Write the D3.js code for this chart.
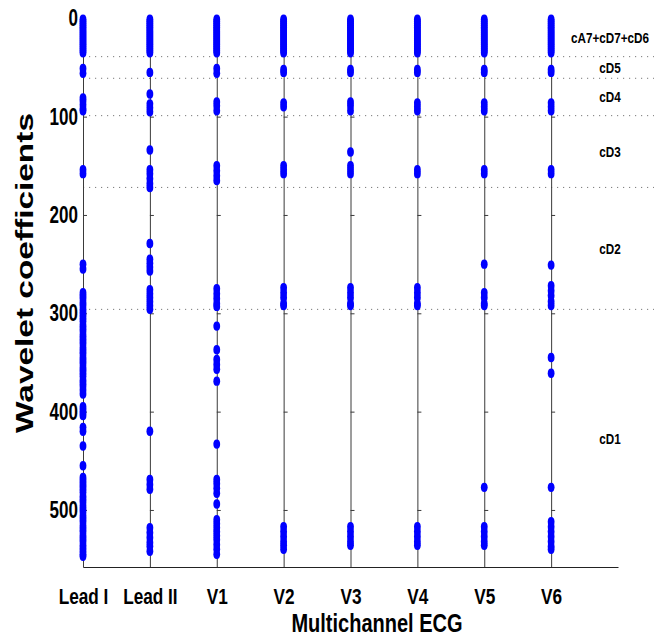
<!doctype html>
<html lang="en">
<head>
  <meta charset="utf-8">
  <title>wavelet coefficients per lead</title>
  <style>
    * { margin: 0; padding: 0; box-sizing: border-box; }
    body { background: #fff; }
  </style>
</head>
<body>
  <div class="chart"></div>
  <script src="https://cdn.jsdelivr.net/npm/d3@7"></script>
  <script>
    // ---------------------------------------------------------------
    //@@ data
    const leads = ['Lead I', 'Lead II', 'V1', 'V2', 'V3', 'V4', 'V5', 'V6'];
    const yTicks = [0, 100, 200, 300, 400, 500];
    const bandEdges = [39, 61, 99, 172, 296];
    const bandNames = ['cA7+cD7+cD6', 'cD5', 'cD4', 'cD3', 'cD2', 'cD1'];

    // approximation band, kept by every lead
    const approxBand = [1, 3, 5, 7, 9, 11, 13, 15, 17, 19, 21, 23, 25, 27, 29, 31, 33, 35];

    const leadI = [51, 56, 81, 84, 88, 92, 94, 154, 158, 250, 255,
      279, 282, 285, 289, 292, 296, 299, 302, 305, 308, 312, 315, 318, 322, 325, 328, 331, 335,
      338, 341, 345, 348, 351, 355, 358, 361, 364, 368, 371, 374, 378, 382, 395, 398, 401, 404,
      416, 420, 435, 455, 467, 470, 473, 476, 479, 482, 486, 489, 492, 496, 499, 502, 506, 509,
      512, 516, 519, 522, 526, 529, 532, 536, 539, 542, 545, 547];
    const leadII = [55, 77, 87, 91, 95, 134, 154, 158, 163, 168, 172, 229, 245, 249, 253, 257,
      276, 280, 284, 288, 292, 296, 420, 469, 474, 479, 518, 523, 528, 533, 537, 542];
    const v1 = [51, 56, 85, 89, 94, 150, 155, 160, 165, 275, 280, 285, 290, 293, 313, 337, 347,
      352, 357, 369, 433, 469, 473, 478, 483, 494, 510, 514, 518, 522, 526, 530, 535, 540, 545];
    const v2 = [52, 55, 86, 90, 150, 154, 158, 274, 279, 284, 290, 292, 517, 522, 527, 532, 536, 540];
    const v3 = [52, 55, 85, 89, 94, 136, 150, 154, 158, 274, 279, 284, 290, 292, 517, 522, 527, 532, 536];
    const v4 = [52, 55, 86, 90, 94, 154, 158, 274, 279, 284, 290, 292, 517, 522, 527, 532, 536];
    const v5 = [52, 55, 86, 90, 94, 154, 158, 250, 279, 284, 290, 292, 477, 517, 522, 527, 532, 536];
    const v6 = [52, 55, 86, 90, 94, 154, 158, 251, 272, 277, 282, 288, 292, 345, 361, 477,
      512, 517, 522, 527, 532, 537, 540];

    const leadValues = [leadI, leadII, v1, v2, v3, v4, v5, v6];

    // ---------------------------------------------------------------
    //@@ svg configuration
    const svgDim = {w: 654, h: 640};
    const sans = "'Liberation Sans', Arial, sans-serif";

    const svg = d3.select('.chart').append('svg')
      .attr('width', svgDim.w)
      .attr('height', svgDim.h)
      .style('display', 'block');

    svg.append('rect')
      .attr('width', svgDim.w)
      .attr('height', svgDim.h)
      .attr('fill', '#fff');

    // squeeze bold text horizontally, the source figure uses a narrow face
    function narrowText(sel, size, squeeze = 0.82) {
      sel.attr('font-family', sans)
        .attr('font-weight', 'bold')
        .attr('font-size', size)
        .attr('fill', '#000')
        .each(function() {
          const w = this.getComputedTextLength();
          this.setAttribute('textLength', w * squeeze);
          this.setAttribute('lengthAdjust', 'spacingAndGlyphs');
        });
    }

    //@@ scales
    const scaleY = d3.scaleLinear().domain([0, 558]).range([18.3, 567]);
    const scaleX = d3.scaleLinear().domain([1, 9]).range([83, 618]);
    const leadPos = leads.map((d, i) => i + 1);

    //@@ band separators (dotted)
    svg.append('g')
      .selectAll('line')
      .data(bandEdges)
      .join('line')
      .attr('x1', scaleX(1))
      .attr('x2', svgDim.w)
      .attr('y1', d => scaleY(d))
      .attr('y2', d => scaleY(d))
      .attr('stroke', '#7a7a7a')
      .attr('stroke-width', 1)
      .attr('stroke-dasharray', '1.2,4.8');

    //@@ band names, centred in each band (squeezed with a transform)
    const bandMids = bandNames.map((d, i) => {
      const lo = i === 0 ? 0 : bandEdges[i - 1];
      const hi = i < bandEdges.length ? bandEdges[i] : scaleY.domain()[1];
      return {name: d, mid: (lo + hi) / 2};
    });
    svg.append('g')
      .selectAll('text')
      .data(bandMids)
      .join('text')
      .attr('transform', d => `translate(610,${scaleY(d.mid)}) scale(0.78,1)`)
      .attr('dy', '0.36em')
      .attr('text-anchor', 'middle')
      .attr('font-family', sans)
      .attr('font-weight', 'bold')
      .attr('font-size', 15)
      .text(d => d.name);

    //@@ one vertical line per lead, with inward ticks
    leadPos.forEach(p => {
      const g = svg.append('g')
        .attr('transform', `translate(${scaleX(p)},0)`)
        .call(d3.axisRight(scaleY).tickValues(yTicks.slice(1)).tickSizeInner(4).tickSizeOuter(0).tickFormat(''));
      g.selectAll('path, line').attr('stroke', '#3a3a3a');
    });

    //@@ y axis labels
    const axisY = svg.append('g')
      .attr('transform', `translate(${scaleX(1)},0)`)
      .call(d3.axisLeft(scaleY).tickValues(yTicks).tickSize(0).tickPadding(5));
    axisY.select('.domain').remove();
    axisY.selectAll('text').call(narrowText, 23, 0.74);

    //@@ x axis
    const axisX = svg.append('g')
      .attr('transform', `translate(0,${scaleY.range()[1]})`)
      .call(d3.axisBottom(scaleX).tickValues(leadPos).tickFormat(d => leads[d - 1])
        .tickSizeInner(0).tickSizeOuter(0).tickPadding(22));
    axisX.select('.domain').attr('stroke', '#222').attr('stroke-width', 1.2);
    axisX.selectAll('text').call(narrowText, 21.5, 0.8);

    //@@ coefficient markers
    const dots = leadValues.flatMap((vals, i) =>
      approxBand.concat(vals).map(v => ({lead: i + 1, v})));
    svg.append('g')
      .selectAll('ellipse')
      .data(dots)
      .join('ellipse')
      .attr('cx', d => scaleX(d.lead))
      .attr('cy', d => scaleY(d.v))
      .attr('rx', 3.4)
      .attr('ry', 4.7)
      .attr('fill', '#0000ff');

    //@@ axis titles
    svg.append('text')
      .attr('transform', 'translate(33,273) rotate(-90)')
      .attr('text-anchor', 'middle')
      .attr('font-family', sans)
      .attr('font-weight', 'bold')
      .attr('font-size', 24)
      .attr('textLength', 320)
      .attr('lengthAdjust', 'spacingAndGlyphs')
      .text('Wavelet coefficients');

    svg.append('text')
      .attr('x', 377)
      .attr('y', 632)
      .attr('text-anchor', 'middle')
      .text('Multichannel ECG')
      .call(narrowText, 25, 0.8);
  </script>
</body>
</html>
